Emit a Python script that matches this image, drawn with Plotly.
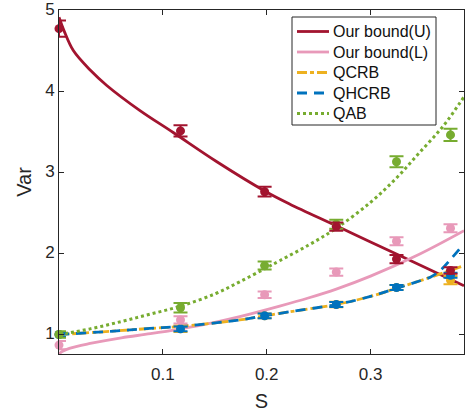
import plotly.graph_objects as go

# ---- curves ----
S_U = [0, 0.005, 0.0138, 0.03, 0.046, 0.078, 0.11, 0.152, 0.198, 0.222, 0.267, 0.30, 0.347, 0.39]
U = [4.91, 4.74, 4.50, 4.26, 4.07, 3.76, 3.49, 3.13, 2.77, 2.61, 2.34, 2.14, 1.86, 1.60]

S_L = [0, 0.003, 0.01, 0.03, 0.06, 0.088, 0.117, 0.15, 0.174, 0.2125, 0.24, 0.267, 0.30, 0.347, 0.39]
L = [0.76, 0.79, 0.83, 0.89, 0.96, 1.01, 1.07, 1.15, 1.22, 1.35, 1.45, 1.56, 1.72, 1.99, 2.28]

S_Q = [0, 0.05, 0.0875, 0.117, 0.174, 0.198, 0.222, 0.267, 0.30, 0.325, 0.347, 0.37, 0.39]
QCRB = [1.0, 1.04, 1.075, 1.10, 1.18, 1.23, 1.28, 1.37, 1.47, 1.57, 1.66, 1.76, 1.85]

S_H = [0, 0.05, 0.0875, 0.117, 0.174, 0.198, 0.222, 0.267, 0.30, 0.325, 0.347, 0.358, 0.368, 0.378, 0.39]
QHCRB = [1.0, 1.04, 1.075, 1.10, 1.18, 1.23, 1.28, 1.37, 1.47, 1.57, 1.66, 1.71, 1.80, 1.94, 2.12]

S_A = [0, 0.03, 0.06, 0.0875, 0.117, 0.15, 0.174, 0.198, 0.2125, 0.24, 0.267, 0.30, 0.325, 0.347, 0.37, 0.39]
QAB = [1.0, 1.07, 1.16, 1.25, 1.35, 1.50, 1.65, 1.81, 1.91, 2.10, 2.31, 2.63, 2.93, 3.24, 3.57, 3.93]

# ---- measured points with error bars ----
S_pts = [0, 0.117, 0.198, 0.267, 0.325, 0.377]
U_pts = [4.77, 3.51, 2.76, 2.33, 1.93, 1.79]
U_err = [0.10, 0.07, 0.06, 0.05, 0.05, 0.04]
L_pts = [0.87, 1.18, 1.49, 1.77, 2.15, 2.31]
L_err = [0.05, 0.045, 0.04, 0.045, 0.05, 0.05]
A_pts = [1.0, 1.33, 1.85, 2.36, 3.13, 3.46]
A_err = [0.04, 0.06, 0.05, 0.055, 0.068, 0.075]
Q_pts = [1.0, 1.07, 1.23, 1.37, 1.58, 1.67]
Q_err = [0.03, 0.04, 0.03, 0.035, 0.03, 0.05]
H_pts = [1.0, 1.07, 1.23, 1.37, 1.58, 1.73]
H_err = [0.03, 0.03, 0.03, 0.03, 0.03, 0.03]

X_TICKS = [0.1, 0.2, 0.3]
Y_TICKS = [1, 2, 3, 4, 5]
LEGEND_NAMES = ["Our bound(U)", "Our bound(L)", "QCRB", "QHCRB", "QAB"]

C_U = "#A2142F"
C_L = "#E899B9"
C_Q = "#EDB120"
C_H = "#0072BD"
C_A = "#77AC30"

W, H = 471, 412
ML, MR, MT, MB = 59, 7, 10, 58
PW, PH = W - ML - MR, H - MT - MB


def px(xp):
    return (xp - ML) / PW


def py(yp):
    return 1 - (yp - MT) / PH


styles = [
    dict(color=C_U, width=2.8, shape="spline"),
    dict(color=C_L, width=2.8, shape="spline"),
    dict(color=C_Q, width=2.8, dash="10px,3px,4px,3px", shape="spline"),
    dict(color=C_H, width=2.8, dash="10px,7px", shape="spline"),
    dict(color=C_A, width=3, dash="dot", shape="spline"),
]

fig = go.Figure()
for (xs, ys), name, st in zip([(S_U, U), (S_L, L), (S_Q, QCRB), (S_H, QHCRB), (S_A, QAB)],
                              LEGEND_NAMES, styles):
    fig.add_trace(go.Scatter(x=xs, y=ys, mode="lines", name=name, showlegend=False, line=st))

for ys, errs, col in [(Q_pts, Q_err, C_Q), (H_pts, H_err, C_H), (L_pts, L_err, C_L),
                      (A_pts, A_err, C_A), (U_pts, U_err, C_U)]:
    fig.add_trace(go.Scatter(x=S_pts, y=ys, mode="markers", showlegend=False, cliponaxis=False,
                             marker=dict(color=col, size=9),
                             error_y=dict(type="data", array=errs, color=col,
                                          thickness=2, width=7)))

# ---- hand-built legend box (MATLAB-style) ----
fig.add_shape(type="rect", xref="paper", yref="paper",
              x0=px(292), x1=px(436), y0=py(125), y1=py(17),
              line=dict(color="#262626", width=1), fillcolor="white", layer="above")
for i, (name, st) in enumerate(zip(LEGEND_NAMES, styles)):
    yc = 31.5 + i * 20.5
    fig.add_shape(type="line", xref="paper", yref="paper",
                  x0=px(297), x1=px(329), y0=py(yc), y1=py(yc), layer="above",
                  line=dict(color=st["color"], width=st["width"], dash=st.get("dash", "solid")))
    fig.add_annotation(xref="paper", yref="paper", x=px(331), y=py(yc), text=name,
                       showarrow=False, xanchor="left", yanchor="middle",
                       font=dict(family="Liberation Sans", size=16, color="#111111"))

axis_common = dict(showline=True, linecolor="#262626", linewidth=1, mirror="ticks",
                   ticks="inside", ticklen=5, tickcolor="#262626", showgrid=False,
                   zeroline=False, automargin=False, ticklabeloverflow="allow",
                   tickfont=dict(family="Liberation Sans", size=17, color="#262626"))

fig.update_xaxes(range=[0, 0.39], tickvals=X_TICKS, ticktext=[f"{v:.1f}" for v in X_TICKS],
                 ticklabelstandoff=5,
                 title=dict(text="S", font=dict(family="Liberation Sans", size=20, color="#262626"),
                            standoff=10),
                 **axis_common)
fig.update_yaxes(range=[0.76, 5.0], tickvals=Y_TICKS, ticktext=[str(v) for v in Y_TICKS],
                 ticklabelshift=-1,
                 title=dict(text="Var", font=dict(family="Liberation Sans", size=20, color="#262626"),
                            standoff=8),
                 **axis_common)

fig.update_layout(
    width=W, height=H,
    margin=dict(l=ML, r=MR, t=MT, b=MB),
    plot_bgcolor="white", paper_bgcolor="white",
    font=dict(family="Liberation Sans", color="#262626"),
    showlegend=False,
)

fig.write_html("out.html", config={"displayModeBar": False},
               post_script="document.body.style.margin='0px';document.body.style.overflow='hidden';")
